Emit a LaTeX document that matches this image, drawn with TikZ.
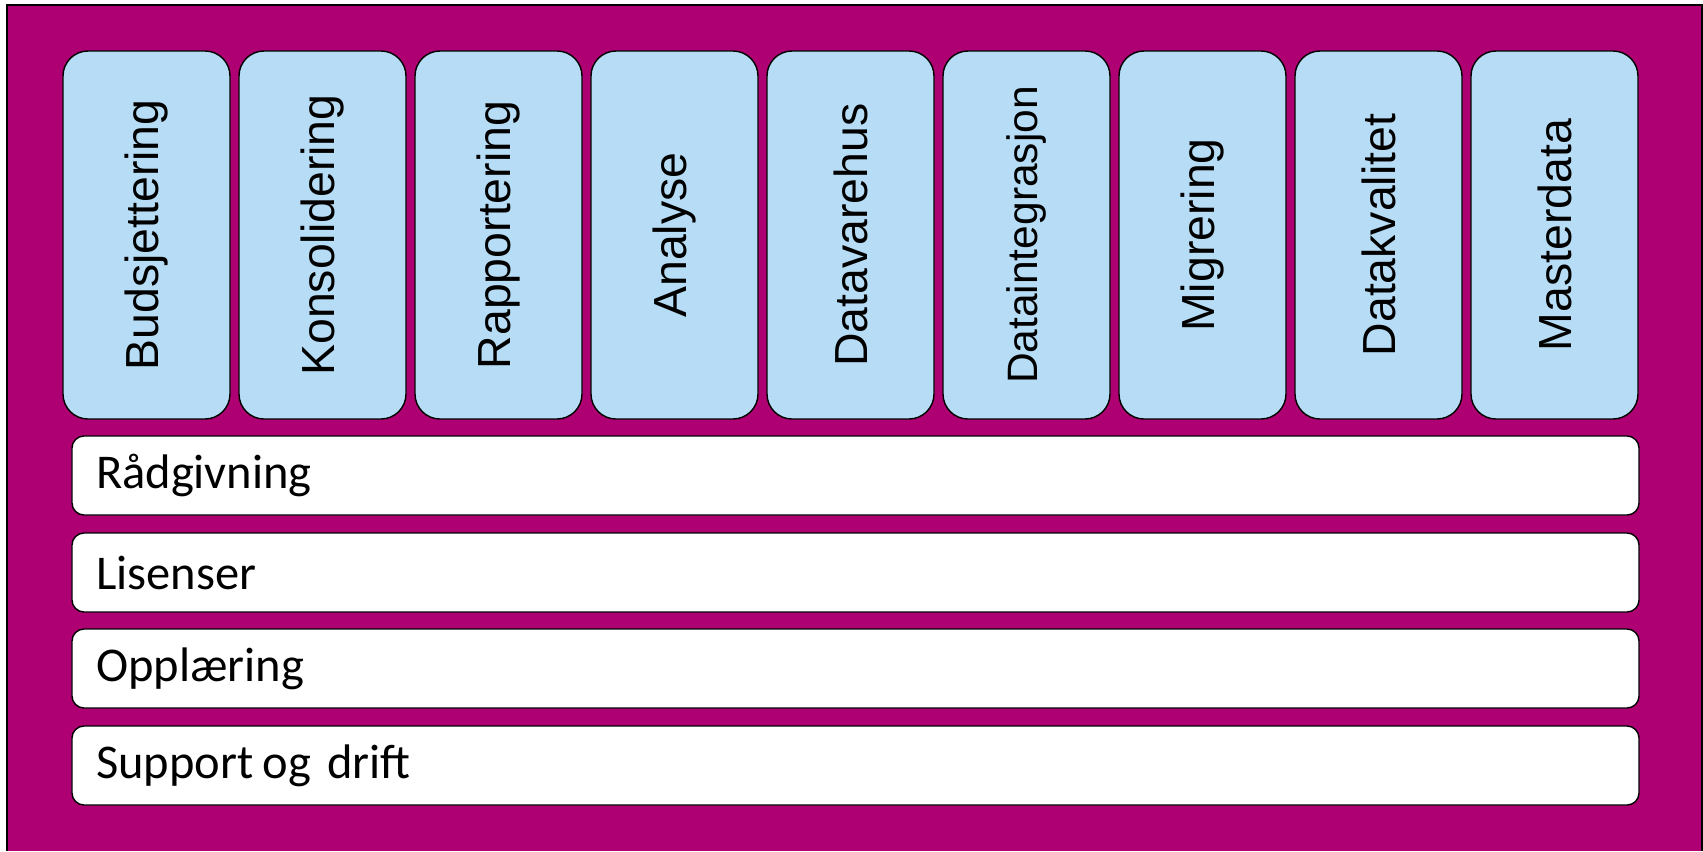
\documentclass[tikz,border=0pt]{standalone}
\usepackage{fontspec}
\setmainfont{Carlito}
\newfontfamily\colfont{Liberation Sans}
\definecolor{frameviolet}{RGB}{175,0,115}
\definecolor{colblue}{RGB}{182,221,245}
\begin{document}
\begin{tikzpicture}[
    area column/.style={draw, thin, fill=colblue, rounded corners=0.25cm, rotate=90,
        minimum width=3.68cm, minimum height=1.67cm, inner sep=0pt,
        font=\colfont\fontsize{13.2}{15}\selectfont},
    service bar/.style={draw, thin, fill=white, rounded corners=0.12cm,
        minimum width=15.67cm, minimum height=0.79cm, inner xsep=0.24cm, inner ysep=0pt,
        text width=15.19cm, align=left, font=\fontsize{13.8}{16}\selectfont},
    ]
\useasboundingbox (0,0) rectangle (17.03,-8.51);
\fill[frameviolet] (0.07,-0.05) rectangle (17.02,-8.51);
\draw (0.07,-8.51) -- (0.07,-0.05) -- (17.02,-0.05) -- (17.02,-8.51);
% columns
\node[area column] (budsjett) at (1.465,-2.35) {Budsjettering};
\node[area column] (konsolid) at (3.225,-2.35) {Konsolidering};
\node[area column] (rapport) at (4.985,-2.35) {Rapportering};
\node[area column] (analyse) at (6.745,-2.35) {Analyse};
\node[area column] (varehus) at (8.505,-2.35) {Datavarehus};
\node[area column, font=\colfont\fontsize{12.1}{14}\selectfont] (integr) at (10.265,-2.35) {Dataintegrasjon};
\node[area column] (migr) at (12.025,-2.35) {Migrering};
\node[area column] (kvalitet) at (13.785,-2.35) {Datakvalitet};
\node[area column] (master) at (15.545,-2.35) {Masterdata};
% bars
\node[service bar] (raad) at (8.555,-4.755) {Rådgivning};
\node[service bar] (lisens) at (8.555,-5.725) {Lisenser};
\node[service bar] (opplaer) at (8.555,-6.685) {Opplæring};
\node[service bar] (support) at (8.555,-7.655) {Support\hspace{-0.14em} og drift};
\end{tikzpicture}
\end{document}
